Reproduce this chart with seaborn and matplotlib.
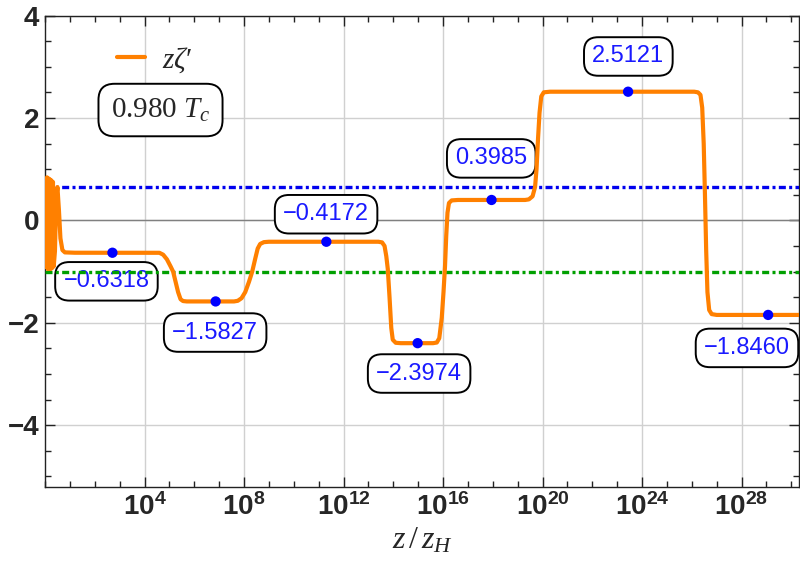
import numpy as np
import pandas as pd
import matplotlib
matplotlib.use('Agg')
import matplotlib.pyplot as plt
from matplotlib.lines import Line2D
import seaborn as sns

# curve: log10(z/z_H) and z*zeta'
curve_logz = [0.00, 0.02, 0.05, 0.08, 0.11, 0.14, 0.17, 0.20, 0.23, 0.26, 0.29, 0.32,
              0.35, 0.40, 0.45, 0.50, 0.56, 0.62, 0.70, 0.80, 1.20,
              4.60, 4.75, 4.90, 5.05, 5.15, 5.25, 5.35, 5.45, 5.55, 5.70,
              7.60, 7.75, 7.90, 8.05, 8.20, 8.33, 8.45, 8.55, 8.65, 8.80, 9.00,
              13.40, 13.55, 13.65, 13.72, 13.78, 13.85, 13.92, 13.98, 14.10, 14.30,
              15.60, 15.75, 15.85, 15.95, 16.02, 16.08, 16.13, 16.18, 16.24, 16.35, 16.60,
              19.30, 19.45, 19.60, 19.70, 19.76, 19.82, 19.88, 19.95, 20.05, 20.30,
              26.10, 26.25, 26.35, 26.42, 26.48, 26.53, 26.58, 26.63, 26.70, 26.80, 27.00, 30.40]
curve_val = [0.00, 0.80, -0.90, 0.84, -0.95, 0.82, -0.95, 0.80, -0.95, 0.78, -0.93, 0.75,
             -0.90, -0.60, 0.45, 0.65, 0.20, -0.35, -0.58, -0.625, -0.6318,
             -0.633, -0.67, -0.76, -0.90, -1.00, -1.20, -1.40, -1.54, -1.575, -1.5827,
             -1.5827, -1.57, -1.52, -1.40, -1.20, -1.00, -0.75, -0.55, -0.46, -0.425, -0.4172,
             -0.4172, -0.43, -0.50, -0.70, -0.95, -1.50, -2.10, -2.33, -2.39, -2.3974,
             -2.3974, -2.385, -2.30, -1.90, -1.40, -0.90, -0.30, 0.15, 0.34, 0.39, 0.3985,
             0.3985, 0.41, 0.47, 0.65, 1.00, 1.60, 2.10, 2.42, 2.50, 2.5121,
             2.5121, 2.50, 2.45, 2.20, 1.50, 0.50, -0.60, -1.40, -1.75, -1.83, -1.846, -1.846]

# plateau markers and their labels
dot_logz = [2.71, 6.86, 11.31, 14.98, 17.95, 23.44, 29.07]
dot_val = [-0.6318, -1.5827, -0.4172, -2.3974, 0.3985, 2.5121, -1.8460]
label_text = ['\u22120.6318', '\u22121.5827', '\u22120.4172', '\u22122.3974',
              '0.3985', '2.5121', '\u22121.8460']
label_logz = [2.47, 6.84, 11.30, 15.04, 17.94, 23.45, 28.22]
label_val = [-1.19, -2.19, 0.12, -2.99, 1.21, 3.20, -2.49]

hline_blue = 0.65
hline_green = -1.0

xtick_exp = [4, 8, 12, 16, 20, 24, 28]
ytick_vals = [-4, -2, 0, 2, 4]
ytick_text = ['\u22124', '\u22122', '0', '2', '4']

orange = '#ff8000'

sns.set_style('ticks')
plt.rcParams['font.family'] = ['Liberation Sans', 'DejaVu Sans']
plt.rcParams['mathtext.fontset'] = 'custom'
plt.rcParams['mathtext.rm'] = 'Liberation Serif'
plt.rcParams['mathtext.it'] = 'Liberation Serif:italic'
plt.rcParams['mathtext.bf'] = 'Liberation Sans:bold'

fig = plt.figure(figsize=(8, 5.72), dpi=100)
ax = fig.add_axes([0.05625, 0.1491, 0.9431, 0.8238])
ax.set_xscale('log')

df = pd.DataFrame({'z': 10.0 ** np.array(curve_logz), 'v': curve_val})
sns.lineplot(data=df, x='z', y='v', sort=False, estimator=None, color=orange,
             lw=3, ax=ax, legend=False, zorder=4)

dots = pd.DataFrame({'z': 10.0 ** np.array(dot_logz), 'v': dot_val})
sns.scatterplot(data=dots, x='z', y='v', color='#0000ff', s=55, edgecolor='none',
                ax=ax, zorder=5, legend=False)

ax.axhline(hline_blue, color='#0000ee', lw=2.4, dashes=[2.1, 1.0, 0.9, 1.0], zorder=3)
ax.axhline(hline_green, color='#00a000', lw=2.4, dashes=[2.1, 1.0, 0.9, 1.0], zorder=3)

for lx, ly, t in zip(label_logz, label_val, label_text):
    ax.text(10.0 ** lx, ly, t, ha='center', va='center', fontsize=17, color='#1a1aff',
            bbox=dict(boxstyle='round,pad=0.35,rounding_size=0.6', fc='white',
                      ec='black', lw=1.4), zorder=2)

ax.set_xlim(1, 10 ** 30.33)
ax.set_ylim(-5.2, 4)

ax.set_xticks([10.0 ** e for e in xtick_exp])
ax.set_xticklabels([r'$\mathbf{10^{%d}}$' % e for e in xtick_exp], fontsize=20)
ax.set_xticks([10.0 ** e for e in range(0, 31)], minor=True)
ax.set_xticklabels([], minor=True)
ax.set_yticks(ytick_vals)
ax.set_yticklabels(ytick_text, fontsize=20, fontweight='bold')
ax.set_yticks(np.arange(-5, 4.01, 0.5), minor=True)

ax.tick_params(which='both', direction='in', top=True, right=True, color='#222222', width=1)
ax.tick_params(which='major', length=7)
ax.tick_params(which='minor', length=4)
ax.tick_params(axis='x', which='major', pad=5)
ax.tick_params(axis='y', which='major', pad=4)

ax.grid(which='major', color='#d0d0d0', lw=1, zorder=0)
ax.axhline(0, color='#808080', lw=1, zorder=1)
ax.set_axisbelow(True)
for sp in ax.spines.values():
    sp.set_color('#222222')
    sp.set_linewidth(1)

ax.set_xlabel(r'$z\,/\,z_H$', fontsize=23, labelpad=3)
ax.set_ylabel('')

ax.legend(handles=[Line2D([], [], color=orange, lw=3)], labels=['$z\\zeta\u2032$'],
          loc='center left', bbox_to_anchor=(0.0954, 0.9056), frameon=False,
          fontsize=21, handlelength=0.95, handletextpad=0.6, borderpad=0, borderaxespad=0)

ax.text(0.1531, 0.7994, r'$0.980\ T_c$', transform=ax.transAxes, ha='center', va='center',
        fontsize=21, bbox=dict(boxstyle='round,pad=0.42,rounding_size=0.55', fc='white',
                               ec='black', lw=1.4), zorder=6)

fig.savefig('out.png', dpi=100)
